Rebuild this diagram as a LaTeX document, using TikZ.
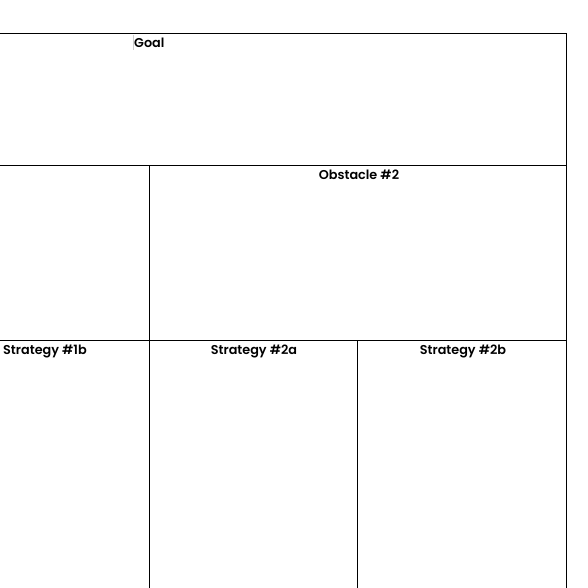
\documentclass[tikz,border=0pt]{standalone}
\usepackage{fontspec}
\setmainfont{Poppins}[UprightFont=* SemiBold, BoldFont=* Bold]
\begin{document}
\begin{tikzpicture}[x=1pt,y=-1pt,
  rule/.style={line width=1pt, black},
  hdr/.style={font=\fontsize{12.8}{15}\selectfont, inner sep=0pt, anchor=base}]
\useasboundingbox (0,0) rectangle (588,588);
\fill[white] (0,0) rectangle (588,588);
% grid lines
\draw[rule] (0,33.5) -- (566.5,33.5);
\draw[rule] (566.5,33.5) -- (566.5,588);
\draw[rule] (0,165.5) -- (566.5,165.5);
\draw[rule] (149.5,165.5) -- (149.5,588);
\draw[rule] (0,340.5) -- (566.5,340.5);
\draw[rule] (357.5,340.5) -- (357.5,588);
% faint cursor mark
\draw[black!20, line width=0.8pt] (133.5,35) -- (133.5,50);
% labels
\node[hdr, anchor=base west] (goal) at (134,47.5) {Goal};
\node[hdr] (obs) at (359,179.5) {Obstacle \#2};
\node[hdr, anchor=base west] (s1b) at (3,354.5) {Strategy \#1b};
\node[hdr] (s2a) at (254,354.5) {Strategy \#2a};
\node[hdr] (s2b) at (463,354.5) {Strategy \#2b};
\end{tikzpicture}
\end{document}
